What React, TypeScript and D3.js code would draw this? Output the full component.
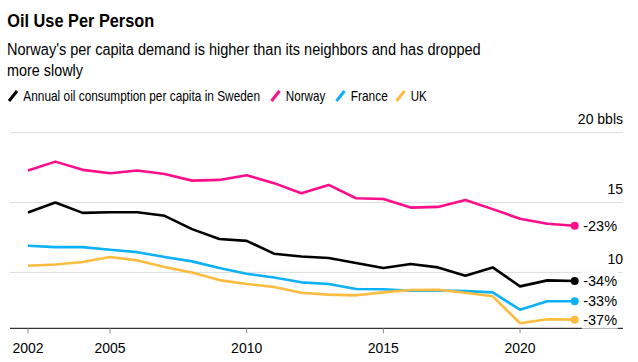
import * as d3 from "d3";
import React, { useLayoutEffect, useRef, useState } from "react";

const years = d3.range(2002, 2023);

const sweden = [14.29, 15.0, 14.26, 14.31, 14.31, 14.05, 13.1, 12.39, 12.26, 11.34, 11.14, 11.03, 10.67, 10.31, 10.6, 10.36, 9.76, 10.36, 9.0, 9.43, 9.39];
const norway = [17.29, 17.93, 17.34, 17.1, 17.29, 17.05, 16.57, 16.62, 16.96, 16.39, 15.67, 16.26, 15.31, 15.26, 14.64, 14.69, 15.19, 14.53, 13.84, 13.48, 13.34];
const france = [11.91, 11.81, 11.81, 11.62, 11.45, 11.1, 10.79, 10.31, 9.9, 9.64, 9.29, 9.17, 8.81, 8.79, 8.69, 8.71, 8.66, 8.57, 7.33, 7.94, 7.94];
const uk = [10.48, 10.57, 10.74, 11.1, 10.86, 10.38, 10.0, 9.45, 9.17, 8.96, 8.55, 8.41, 8.36, 8.57, 8.74, 8.76, 8.55, 8.29, 6.36, 6.65, 6.62];

const seriesNames = ["Annual oil consumption per capita in Sweden", "Norway", "France", "UK"];
const seriesColors = ["#000000", "#ff0d8a", "#0db1f7", "#fdbc3f"];
const seriesValues = [sweden, norway, france, uk];
const changeLabels = ["-34%", "-23%", "-33%", "-37%"];

const yTicks = [10, 15, 20];
const xTicks = [2002, 2005, 2010, 2015, 2020];

const FONT = "'Liberation Sans', Arial, sans-serif";

// text squeezed horizontally to a target width (the original uses a narrow face)
const NarrowText = ({ x, y, width, children, ...rest }: any) => {
  const ref = useRef<SVGTextElement>(null);
  const [k, setK] = useState(1);
  useLayoutEffect(() => {
    if (ref.current) {
      const w = ref.current.getComputedTextLength();
      if (w > 0) setK(width / w);
    }
  }, [width]);
  return (
    <text ref={ref} x={0} y={0} transform={`translate(${x},${y}) scale(${k},1)`} {...rest}>
      {children}
    </text>
  );
};

export default function App() {
  const width = 638;
  const height = 362;

  const x = d3.scaleLinear().domain([2002, 2022]).range([28, 574.7]);
  const y = d3.scaleLinear().domain([6, 20]).range([328.3, 132.7]);

  const line = d3
    .line<number>()
    .x((_, i) => x(years[i]))
    .y((d) => y(d));

  const gridLeft = 10;
  const gridRight = 623;

  const legendX = [7.5, 270, 335, 395];
  const legendW = [237, 39.5, 37, 16];

  return (
    <svg
      width={width}
      height={height}
      style={{ position: "absolute", left: 0, top: 0, fontFamily: FONT }}
    >
      <rect width={width} height={height} fill="#fff" />
      <NarrowText x={7.3} y={27} width={147} fontSize={18} fontWeight="bold" fill="#000">
        Oil Use Per Person
      </NarrowText>
      <NarrowText x={7} y={55} width={474} fontSize={16} fill="#000">
        Norway's per capita demand is higher than its neighbors and has dropped
      </NarrowText>
      <NarrowText x={7} y={76} width={76} fontSize={16} fill="#000">
        more slowly
      </NarrowText>

      {seriesNames.map((name, i) => (
        <g key={name} transform={`translate(${legendX[i]}, 0)`}>
          <line x1={1.5} y1={101} x2={9.5} y2={91} stroke={seriesColors[i]} strokeWidth={3} />
          <NarrowText x={15.8} y={100.5} width={legendW[i]} fontSize={14} fill="#000">
            {name}
          </NarrowText>
        </g>
      ))}

      {yTicks.map((t) => (
        <g key={t}>
          <line x1={gridLeft} x2={gridRight} y1={y(t)} y2={y(t)} stroke="#dcdcdc" strokeWidth={1} />
          <text x={gridRight} y={y(t) - 8.5} textAnchor="end" fontSize={14} fill="#000">
            {t === 20 ? "20 bbls" : t}
          </text>
        </g>
      ))}

      <line x1={gridLeft} x2={gridRight} y1={y(6)} y2={y(6)} stroke="#000" strokeWidth={1} />
      {xTicks.map((t) => (
        <g key={t}>
          <line x1={x(t)} x2={x(t)} y1={y(6)} y2={y(6) + 5} stroke="#888" strokeWidth={1} />
          <text x={x(t)} y={353} textAnchor="middle" fontSize={14} fill="#000">
            {t}
          </text>
        </g>
      ))}

      {[2, 3, 0, 1].map((i) => (
        <path
          key={seriesNames[i]}
          d={line(seriesValues[i]) || ""}
          fill="none"
          stroke={seriesColors[i]}
          strokeWidth={2.6}
          strokeLinejoin="round"
        />
      ))}

      {seriesValues.map((vals, i) => {
        const last = vals[vals.length - 1];
        const cx = x(years[years.length - 1]);
        const cy = y(last);
        return (
          <g key={seriesNames[i]}>
            <circle cx={cx} cy={cy} r={4} fill={seriesColors[i]} />
            <rect x={cx + 7} y={cy - 9} width={36} height={18} fill="#fff" />
            <text x={cx + 8.5} y={cy} dy="0.36em" fontSize={14.5} fill="#000">
              {changeLabels[i]}
            </text>
          </g>
        );
      })}
    </svg>
  );
}
